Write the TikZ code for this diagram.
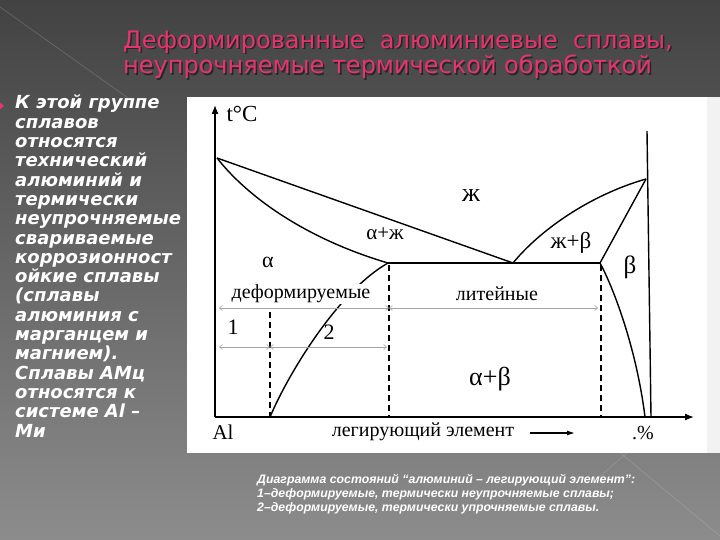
\documentclass[tikz,border=0pt]{standalone}
\usepackage{fontspec}
\setmainfont{Liberation Serif}
\newfontfamily\titlefont{DejaVu Sans}
\newfontfamily\leftfont{DejaVu Sans}
\newfontfamily\capfont{Liberation Sans}
\usetikzlibrary{arrows.meta}
\definecolor{titlepink}{HTML}{E8336E}
\tikzset{
  curve/.style={line width=1.4pt, black},
  axis/.style={line width=1.3pt, black, -{Latex[length=9pt,width=7pt]}},
  dash line/.style={line width=1.2pt, black, dash pattern=on 6pt off 4pt},
  dim/.style={line width=0.6pt, gray!70, {Straight Barb[length=3pt,width=5pt]}-{Straight Barb[length=3pt,width=5pt]}},
  lbl/.style={font=\fontsize{20}{22}\selectfont, inner sep=1pt},
  ttl/.style={font=\titlefont\fontsize{24}{26}\selectfont, anchor=west, inner sep=0pt},
}
\begin{document}
\begin{tikzpicture}[x=1pt,y=-1pt]
\useasboundingbox (0,0) rectangle (720,540);
% background
\shade[top color=black!74, bottom color=black!45] (0,0) rectangle (720,540);
\draw[white!60!black, opacity=0.35, line width=0.8pt] (0,7) -- (128,98);
\draw[white!70!black, opacity=0.35, line width=0.8pt] (612,446) -- (720,536);
\draw[white!70!black, opacity=0.3, line width=0.8pt] (598,478) -- (642,440);
% title
\node[ttl, text=black!85] (t1s) at (124.5,43.5) {Деформированные\ \ алюминиевые\ \ сплавы,};
\node[ttl, text=titlepink] (t1) at (123,42) {Деформированные\ \ алюминиевые\ \ сплавы,};
\node[ttl, text=black!85] (t2s) at (124.5,68.5) {неупрочняемые термической обработкой};
\node[ttl, text=titlepink] (t2) at (123,67) {неупрочняемые термической обработкой};
% bullet
\fill[titlepink] (-2,101) -- (4,106) -- (-2,111) -- cycle;
% left text
\node[anchor=north west, align=left, text=white, inner sep=0pt,
      font=\leftfont\bfseries\itshape\fontsize{18}{19.3}\selectfont] (lt) at (15,95)
{К этой группе\\сплавов\\относятся\\технический\\алюминий и\\термически\\неупрочняемые\\свариваемые\\коррозионност\\ойкие сплавы\\(сплавы\\алюминия с\\марганцем и\\магнием).\\Сплавы АМц\\относятся к\\системе Al –\\Ми};
% picture area
\fill[white] (187,97) rectangle (707,453);
\fill[black!5] (707,97) rectangle (720,453);
% coordinates
\coordinate (O) at (215,417);
\coordinate (Ytop) at (215,105);
\coordinate (Xend) at (694,417);
\coordinate (A) at (217,158);
\coordinate (B) at (646,179);
\coordinate (E) at (513,263);
\coordinate (S1) at (388,263);
\coordinate (S2) at (600,263);
\coordinate (RT) at (647,131);
\coordinate (RB) at (651,417);
\coordinate (P1) at (270,417);
\coordinate (P2) at (645,417);
% axes
\draw[axis] (O) -- (Ytop);
\draw[axis] (O) -- (Xend);
\draw[curve] (RT) -- (RB);
% liquidus / solidus
\draw[curve] (A) -- (E);
\draw[curve] (A) .. controls (250,200) and (310,240) .. (S1);
\draw[curve] (S1) -- (S2);
\draw[curve] (E) .. controls (540,230) and (590,195) .. (B);
\draw[curve] (S2) -- (B);
\draw[curve] (S2) .. controls (612,285) and (636,345) .. (P2);
\draw[curve] (S1) .. controls (340,290) and (290,370) .. (P1);
% dashed
\coordinate (D1t) at (389,265);
\coordinate (D1b) at (389,417);
\coordinate (D2t) at (601,265);
\coordinate (D2b) at (601,417);
\coordinate (D3t) at (270,312);
\draw[dash line] (D1t) -- (D1b);
\draw[dash line] (D2t) -- (D2b);
\draw[dash line] (D3t) -- (P1);
% dimension arrows
\coordinate (R1a) at (219,308);
\coordinate (R1b) at (389,308);
\coordinate (R1c) at (598,308);
\coordinate (R2a) at (219,347);
\coordinate (R2b) at (270,347);
\coordinate (R2c) at (387,347);
\draw[dim] (R1a) -- (R1b);
\draw[dim] (R1b) -- (R1c);
\draw[dim] (R2a) -- (R2b);
\draw[dim] (R2b) -- (R2c);
% labels
\node[lbl, fill=white] (ldef) at (301,294) {деформируемые};
\node[lbl] (llit) at (497,294) {литейные};
\node[lbl, font=\fontsize{22}{24}\selectfont] (l1) at (233,327) {1};
\node[lbl, font=\fontsize{22}{24}\selectfont] (l2) at (329,332) {2};
\node[lbl, font=\fontsize{23}{25}\selectfont] (tc) at (242,114) {t°C};
\node[lbl, font=\fontsize{21}{24}\selectfont] (al) at (223,432) {Al};
\node[lbl] (leg) at (423,432) {легирующий элемент};
\coordinate (La) at (530,433);
\coordinate (Lb) at (575,433);
\draw[line width=1.2pt, -{Latex[length=8pt,width=5pt]}] (La) -- (Lb);
\node[lbl, font=\fontsize{20}{22}\selectfont] (pct) at (643,433) {.\%};
\node[lbl, font=\fontsize{26}{28}\selectfont] (zh) at (471,196) {ж};
\node[lbl, font=\fontsize{21}{24}\selectfont] (az) at (385,234) {α+ж};
\node[lbl, font=\fontsize{22}{24}\selectfont] (al1) at (268,262) {α};
\node[lbl, font=\fontsize{23}{25}\selectfont] (zb) at (571,243) {ж+β};
\node[lbl, font=\fontsize{25}{28}\selectfont] (be) at (630,267) {β};
\node[lbl, font=\fontsize{26}{28}\selectfont] (ab) at (490,379) {α+β};
% caption
\node[anchor=north west, align=left, text=white, inner sep=0pt,
      font=\capfont\bfseries\itshape\fontsize{12.3}{14}\selectfont] (cap) at (257,474)
{Диаграмма состояний “алюминий – легирующий элемент”:\\1–деформируемые, термически неупрочняемые сплавы;\\2–деформируемые, термически упрочняемые сплавы.};
\end{tikzpicture}
\end{document}
